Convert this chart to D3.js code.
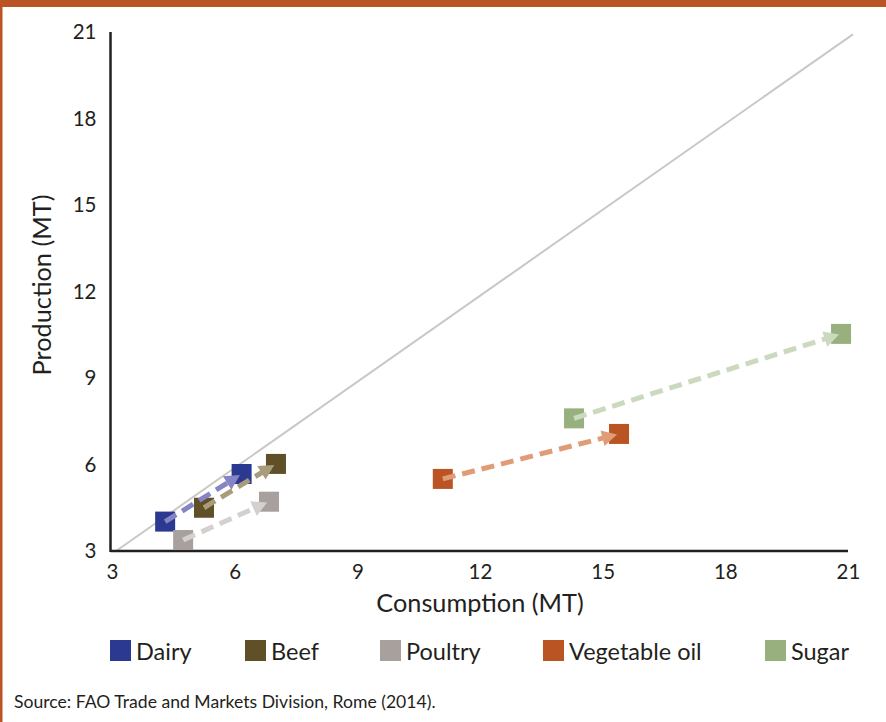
<!DOCTYPE html>
<html>
<head>
<meta charset="utf-8">
<script src="https://cdn.jsdelivr.net/npm/d3@7"></script>
<style>
html,body{margin:0;padding:0;background:#fff;}
svg{display:block;font-family:Lato,"Open Sans",sans-serif;}
</style>
</head>
<body>
<svg id="chart" width="886" height="722"></svg>
<script>
// ---- data ----
const categories = ["Dairy", "Beef", "Poultry", "Vegetable oil", "Sugar"];
const startConsumption = [4.30, 5.25, 4.74, 11.09, 14.30];
const startProduction  = [4.02, 4.50, 3.38, 5.50, 7.60];
const endConsumption   = [6.17, 7.01, 6.84, 15.40, 20.83];
const endProduction    = [5.67, 6.02, 4.71, 7.06, 10.53];
const xTicks = [3, 6, 9, 12, 15, 18, 21];
const yTicks = [3, 6, 9, 12, 15, 18, 21];
const refLineX = [3.1, 21.12];
const refLineY = [3, 20.92];
const markerColors = ["#2B3990", "#605027", "#A7A09D", "#BA5422", "#97B07E"];
const arrowColors  = ["#8584C4", "#A99C7C", "#D4D0CD", "#E09C77", "#CBD9BF"];

const FONT = "Lato, 'Open Sans', sans-serif";
const svg = d3.select("#chart");
const W = 886, H = 722;

// frame
svg.append("rect").attr("x",0).attr("y",0).attr("width",W).attr("height",H).attr("fill","#fff");
svg.append("rect").attr("x",0).attr("y",0).attr("width",W).attr("height",7).attr("fill","#BA5422");
svg.append("rect").attr("x",0).attr("y",0).attr("width",2.5).attr("height",H).attr("fill","#BA5422");

const x = d3.scaleLinear().domain([3,21]).range([112,848]);
const y = d3.scaleLinear().domain([3,21]).range([551,32]);

// reference diagonal
svg.append("line")
  .attr("x1",x(refLineX[0])).attr("y1",y(refLineY[0]))
  .attr("x2",x(refLineX[1])).attr("y2",y(refLineY[1]))
  .attr("stroke","#CBC7C4").attr("stroke-width",2);

// axes
const xAxis = d3.axisBottom(x).tickValues(xTicks).tickSize(0).tickPadding(13).tickFormat(d3.format("d"));
const yAxis = d3.axisLeft(y).tickValues(yTicks).tickSize(0).tickPadding(14).tickFormat(d3.format("d"));
const gx = svg.append("g").attr("transform","translate(0,551)").call(xAxis);
const gy = svg.append("g").attr("transform","translate(110.5,0)").call(yAxis);
[gx,gy].forEach(g=>{
  g.select(".domain").attr("stroke","#231F20").attr("stroke-width",2.5);
  g.selectAll("text").attr("fill","#231F20").attr("font-size",20.5).attr("font-family",FONT);
});
gx.select(".domain").attr("d", `M${110.5},0H${848}`);
gy.select(".domain").attr("d", `M0,${32}V${552}`);

// axis titles
svg.append("text").attr("x",480).attr("y",612).attr("text-anchor","middle")
  .attr("font-size",25.3).attr("fill","#231F20").text("Consumption (MT)");
svg.append("text").attr("transform","translate(51,285) rotate(-90)").attr("text-anchor","middle")
  .attr("font-size",25.3).attr("fill","#231F20").text("Production (MT)");

// markers
const sq = 20;
const data = categories.map((c,i)=>({c, x0:startConsumption[i], y0:startProduction[i], x1:endConsumption[i], y1:endProduction[i], mc:markerColors[i], ac:arrowColors[i]}));
const gm = svg.append("g");
data.forEach(d=>{
  [[d.x0,d.y0],[d.x1,d.y1]].forEach(p=>{
    gm.append("rect").attr("x",x(p[0])-sq/2).attr("y",y(p[1])-sq/2).attr("width",sq).attr("height",sq).attr("fill",d.mc);
  });
});
// arrows
const ga = svg.append("g");
data.forEach(d=>{
  const sx=x(d.x0), sy=y(d.y0), ex=x(d.x1), ey=y(d.y1);
  const dx=ex-sx, dy=ey-sy, L=Math.hypot(dx,dy), ux=dx/L, uy=dy/L;
  const tipx = ex - ux*2, tipy = ey - uy*2;
  const hl=15, hw=8;
  const bx = tipx-ux*hl, by = tipy-uy*hl;
  ga.append("line").attr("x1",sx).attr("y1",sy).attr("x2",bx+ux*1).attr("y2",by+uy*1)
    .attr("stroke",d.ac).attr("stroke-width",5).attr("stroke-dasharray","13,7");
  ga.append("path").attr("d",`M${tipx},${tipy}L${bx-uy*hw},${by+ux*hw}L${bx+uy*hw},${by-ux*hw}Z`).attr("fill",d.ac);
});

// legend
const legendX = [110, 245, 380, 543, 765];
const lg = svg.append("g");
data.forEach((d,i)=>{
  lg.append("rect").attr("x",legendX[i]).attr("y",640).attr("width",21).attr("height",21).attr("fill",d.mc);
  lg.append("text").attr("x",legendX[i]+26).attr("y",660).attr("font-size",23.5).attr("fill","#231F20").text(d.c);
});

// source
svg.append("text").attr("x",14).attr("y",708).attr("font-size",17.6).attr("fill","#231F20")
  .text("Source: FAO Trade and Markets Division, Rome (2014).");
</script>
</body>
</html>
